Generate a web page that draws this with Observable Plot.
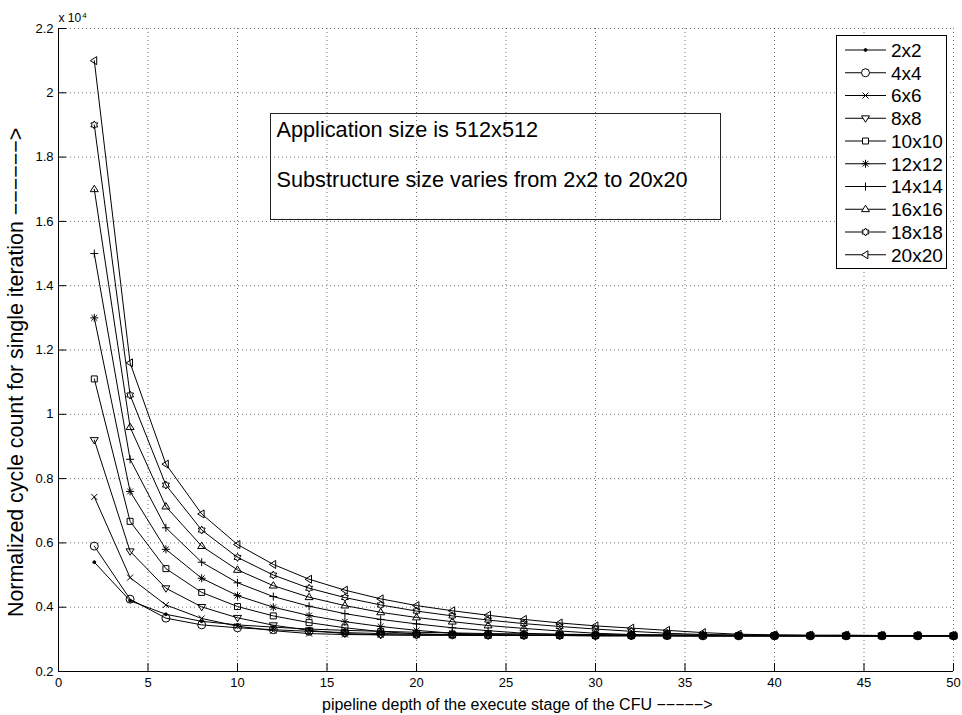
<!DOCTYPE html>
<html><head><meta charset="utf-8">
<script src="https://cdn.jsdelivr.net/npm/d3@7"></script>
<script src="https://cdn.jsdelivr.net/npm/@observablehq/plot@0.6"></script>
<style>
body{margin:0;background:#fff;font-family:"Liberation Sans",Arial,sans-serif;}
#wrap{width:962px;height:715px;}
</style></head><body><div id="wrap"></div>
<script>
// ---- data (values in units of 10^4 cycles) ----
const xTicks = [0, 5, 10, 15, 20, 25, 30, 35, 40, 45, 50];
const yTicks = [0.2, 0.4, 0.6, 0.8, 1.0, 1.2, 1.4, 1.6, 1.8, 2.0, 2.2];
const depth = [2, 4, 6, 8, 10, 12, 14, 16, 18, 20, 22, 24, 26, 28, 30, 32, 34, 36, 38, 40, 42, 44, 46, 48, 50];
const seriesNames = ["2x2", "4x4", "6x6", "8x8", "10x10", "12x12", "14x14", "16x16", "18x18", "20x20"];
const v2x2   = [0.540, 0.420, 0.378, 0.356, 0.345, 0.338, 0.332, 0.328, 0.325, 0.322, 0.320, 0.318, 0.317, 0.316, 0.315, 0.314, 0.314, 0.313, 0.313, 0.312, 0.312, 0.312, 0.311, 0.311, 0.311];
const v4x4   = [0.590, 0.425, 0.366, 0.345, 0.336, 0.330, 0.325, 0.321, 0.318, 0.316, 0.315, 0.314, 0.313, 0.313, 0.312, 0.312, 0.312, 0.311, 0.311, 0.311, 0.311, 0.311, 0.311, 0.311, 0.311];
const v6x6   = [0.743, 0.492, 0.407, 0.365, 0.341, 0.327, 0.318, 0.315, 0.314, 0.313, 0.313, 0.312, 0.312, 0.312, 0.311, 0.311, 0.311, 0.311, 0.311, 0.311, 0.311, 0.311, 0.311, 0.311, 0.311];
const v8x8   = [0.920, 0.574, 0.459, 0.401, 0.367, 0.344, 0.328, 0.318, 0.314, 0.313, 0.313, 0.312, 0.312, 0.312, 0.311, 0.311, 0.311, 0.311, 0.311, 0.311, 0.311, 0.311, 0.311, 0.311, 0.311];
const v10x10 = [1.110, 0.667, 0.520, 0.446, 0.402, 0.373, 0.352, 0.336, 0.324, 0.317, 0.314, 0.313, 0.313, 0.312, 0.312, 0.312, 0.311, 0.311, 0.311, 0.311, 0.311, 0.311, 0.311, 0.311, 0.311];
const v12x12 = [1.300, 0.760, 0.580, 0.490, 0.436, 0.400, 0.374, 0.355, 0.340, 0.328, 0.319, 0.315, 0.313, 0.313, 0.312, 0.312, 0.312, 0.311, 0.311, 0.311, 0.311, 0.311, 0.311, 0.311, 0.311];
const v14x14 = [1.500, 0.860, 0.647, 0.540, 0.476, 0.433, 0.403, 0.380, 0.362, 0.348, 0.336, 0.327, 0.319, 0.315, 0.313, 0.313, 0.312, 0.312, 0.312, 0.311, 0.311, 0.311, 0.311, 0.311, 0.311];
const v16x16 = [1.700, 0.960, 0.713, 0.590, 0.516, 0.467, 0.431, 0.405, 0.384, 0.368, 0.355, 0.343, 0.334, 0.326, 0.319, 0.315, 0.313, 0.313, 0.312, 0.312, 0.312, 0.311, 0.311, 0.311, 0.311];
const v18x18 = [1.900, 1.060, 0.780, 0.640, 0.555, 0.500, 0.459, 0.430, 0.407, 0.388, 0.373, 0.360, 0.349, 0.340, 0.332, 0.325, 0.319, 0.315, 0.313, 0.313, 0.312, 0.312, 0.312, 0.312, 0.311];
const v20x20 = [2.100, 1.160, 0.845, 0.690, 0.595, 0.533, 0.487, 0.453, 0.426, 0.405, 0.389, 0.375, 0.362, 0.351, 0.342, 0.335, 0.328, 0.321, 0.316, 0.314, 0.313, 0.313, 0.312, 0.312, 0.312];
const seriesValues = [v2x2, v4x4, v6x6, v8x8, v10x10, v12x12, v14x14, v16x16, v18x18, v20x20];
const annotationLines = ["Application size is 512x512", "Substructure size varies from 2x2 to 20x20"];
const xLabel = "pipeline depth of the execute stage of the CFU \u2212\u2212\u2212\u2212\u2212>";
const yLabel = "Normalized cycle count for single iteration \u2212\u2212\u2212\u2212\u2212\u2212>";

// ---- marker shapes (MATLAB style) ----
const rad = s => Math.sqrt(s / Math.PI);
const symbols = [
  {draw(c, s) { const r = 1.4; c.moveTo(r, 0); c.arc(0, 0, r, 0, 2 * Math.PI); }},
  {draw(c, s) { const r = rad(s); c.moveTo(r, 0); c.arc(0, 0, r, 0, 2 * Math.PI); }},
  {draw(c, s) { const k = rad(s) * 0.75; c.moveTo(-k, -k); c.lineTo(k, k); c.moveTo(k, -k); c.lineTo(-k, k); }},
  {draw(c, s) { const r = rad(s); c.moveTo(-r, -0.6 * r); c.lineTo(r, -0.6 * r); c.lineTo(0, r); c.closePath(); }},
  {draw(c, s) { const k = rad(s) * 0.75; c.moveTo(-k, -k); c.lineTo(k, -k); c.lineTo(k, k); c.lineTo(-k, k); c.closePath(); }},
  {draw(c, s) { const r = rad(s); c.moveTo(-r, 0); c.lineTo(r, 0); c.moveTo(0, -r); c.lineTo(0, r);
                const k = r * 0.72; c.moveTo(-k, -k); c.lineTo(k, k); c.moveTo(k, -k); c.lineTo(-k, k); }},
  {draw(c, s) { const r = rad(s); c.moveTo(-r, 0); c.lineTo(r, 0); c.moveTo(0, -r); c.lineTo(0, r); }},
  {draw(c, s) { const r = rad(s); c.moveTo(-r, 0.6 * r); c.lineTo(r, 0.6 * r); c.lineTo(0, -r); c.closePath(); }},
  {draw(c, s) { const R = rad(s), ri = R / Math.sqrt(3);
                for (let i = 0; i < 12; i++) { const a = -Math.PI / 2 + i * Math.PI / 6; const rr = i % 2 ? ri : R;
                  const px = rr * Math.cos(a), py = rr * Math.sin(a); if (i === 0) c.moveTo(px, py); else c.lineTo(px, py); }
                c.closePath(); }},
  {draw(c, s) { const r = rad(s); c.moveTo(-r, 0); c.lineTo(0.6 * r, -r); c.lineTo(0.6 * r, r); c.closePath(); }}
];

const table = seriesNames.flatMap((name, i) => depth.map((d, j) => ({series: name, depth: d, value: seriesValues[i][j]})));

const W = 962, H = 715, mL = 58, mR = 9, mT = 28, mB = 44;
const seriesMarks = seriesNames.flatMap((name, i) => {
  const rows = table.filter(d => d.series === name);
  return [
    Plot.line(rows, {x: "depth", y: "value", stroke: "black", strokeWidth: 1}),
    Plot.dot(rows, {x: "depth", y: "value", symbol: symbols[i], r: 4, stroke: "black",
                    fill: i === 0 ? "black" : "none", strokeWidth: 1})
  ];
});

const grid = {stroke: "#000", strokeOpacity: 0.55, strokeDasharray: "1,3", strokeWidth: 1};
const chart = Plot.plot({
  width: W, height: H, marginLeft: mL, marginRight: mR, marginTop: mT, marginBottom: mB,
  style: {fontFamily: '"Liberation Sans", Arial, sans-serif', background: "white", color: "black"},
  x: {domain: [0, 50], label: null},
  y: {domain: [0.2, 2.2], label: null},
  marks: [
    Plot.gridX(xTicks, grid),
    Plot.gridY(yTicks, grid),
    Plot.tickX(xTicks, {x: d => d, insetTop: H - mT - mB - 8, stroke: "black"}),
    Plot.tickY(yTicks, {y: d => d, insetRight: W - mL - mR - 8, stroke: "black"}),
    Plot.ruleX([0], {stroke: "black"}),
    Plot.ruleY([0.2], {stroke: "black"}),
    Plot.axisX(xTicks, {tickSize: 0, tickPadding: 6, fontSize: 13, label: null}),
    Plot.axisY(yTicks, {tickSize: 0, tickPadding: 5, fontSize: 13, label: null,
                        tickFormat: d => String(Math.round(d * 10) / 10)}),
    ...seriesMarks
  ]
});
document.getElementById("wrap").appendChild(chart);

// ---- overlays: labels, annotation box, legend ----
const svg = d3.select(chart);
const ff = '"Liberation Sans", Arial, sans-serif';
const txt = (sel) => sel.append("text").attr("text-anchor", "start").attr("font-family", ff).attr("fill", "black");
txt(svg).attr("x", 322).attr("y", 710).attr("font-size", 16).text(xLabel);
txt(svg).attr("transform", "translate(23,617) rotate(-90)").attr("font-size", 21.4).text(yLabel);
const mult = txt(svg).attr("x", 58.5).attr("y", 21.5).attr("font-size", 12);
mult.append("tspan").text("x 10");
mult.append("tspan").attr("font-size", 8).attr("dy", -3.5).attr("dx", 1).text("4");

// annotation box
svg.append("rect").attr("x", 270.5).attr("y", 113.5).attr("width", 450).attr("height", 106)
  .attr("fill", "none").attr("stroke", "#222").attr("stroke-width", 1);
annotationLines.forEach((t, i) => {
  txt(svg).attr("x", 276.5).attr("y", 136.5 + i * 50.8).attr("font-size", 21.7).text(t);
});

// legend
const lg = svg.append("g");
lg.append("rect").attr("x", 836.5).attr("y", 35.5).attr("width", 110).attr("height", 233)
  .attr("fill", "white").attr("stroke", "black").attr("stroke-width", 1);
seriesNames.forEach((name, i) => {
  const yy = 50 + i * 22.75;
  lg.append("line").attr("x1", 845).attr("x2", 886).attr("y1", yy).attr("y2", yy)
    .attr("stroke", "black").attr("stroke-width", 1);
  lg.append("path").attr("transform", `translate(865.5,${yy})`)
    .attr("d", d3.symbol(symbols[i], 16 * Math.PI)())
    .attr("fill", i === 0 ? "black" : "white").attr("stroke", "black").attr("stroke-width", 1);
  txt(lg).attr("x", 891).attr("y", yy).attr("dy", "0.36em").attr("font-size", 19).text(name);
});
</script>
</body></html>
